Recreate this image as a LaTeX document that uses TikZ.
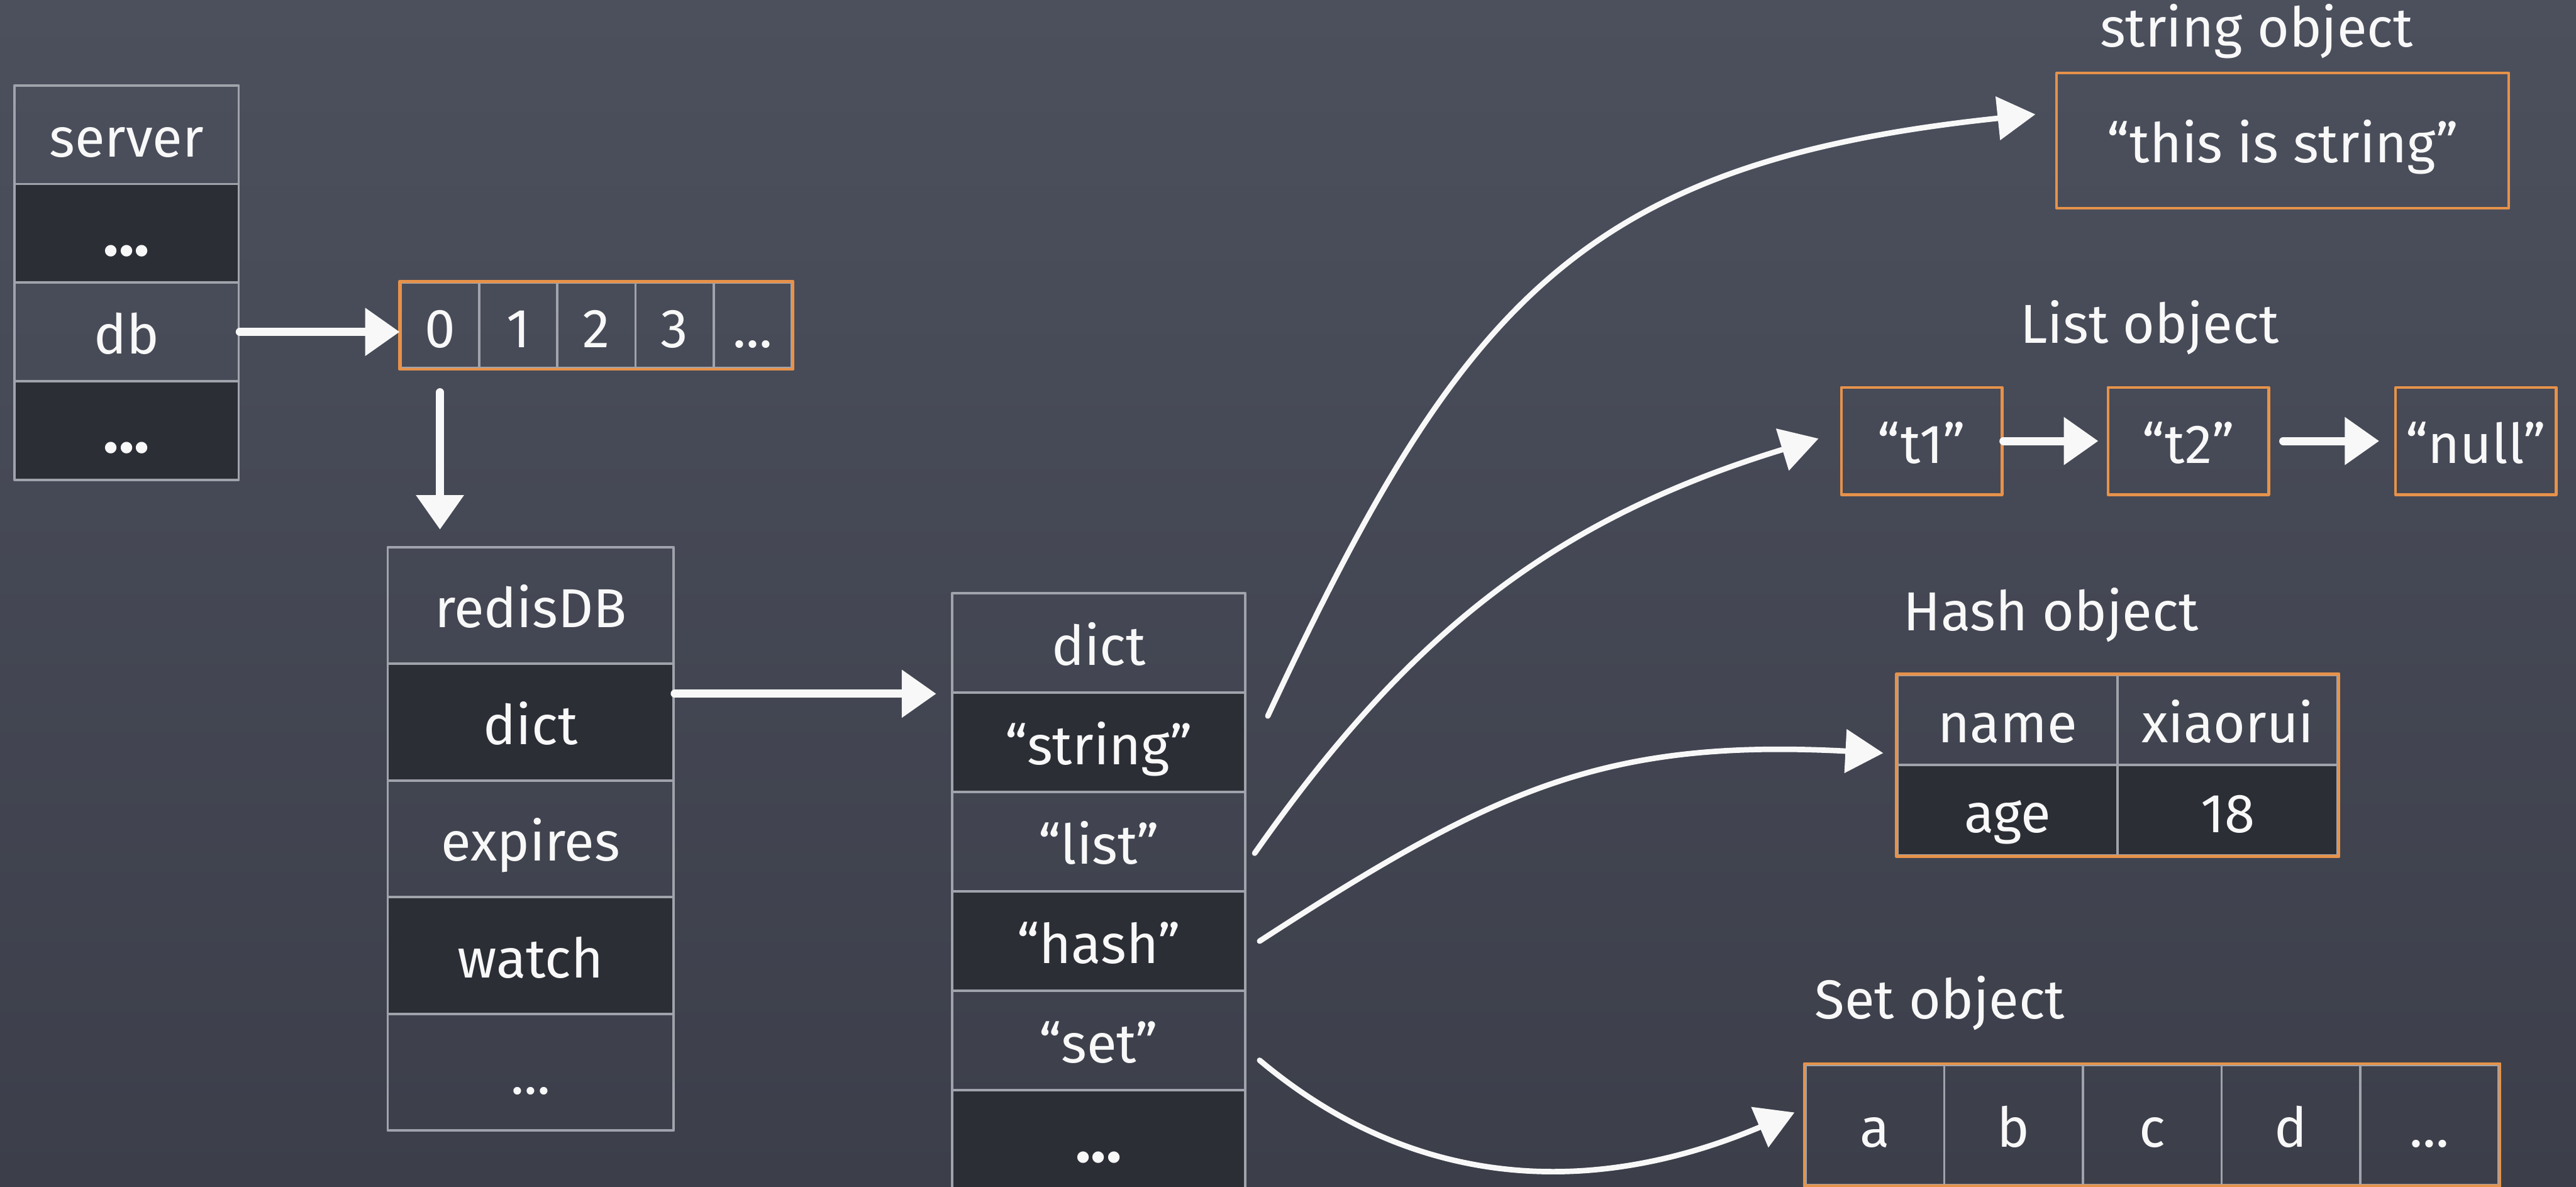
\documentclass[tikz,border=0pt]{standalone}
\usepackage{fontspec}
\setmainfont{Fira Sans}
\usetikzlibrary{arrows.meta}
\definecolor{boardtop}{RGB}{76,80,93}
\definecolor{boardbot}{RGB}{60,63,74}
\definecolor{celldark}{RGB}{44,46,54}
\definecolor{cellline}{RGB}{160,163,171}
\definecolor{boxline}{RGB}{230,146,74}
\definecolor{chalk}{RGB}{248,248,248}
\begin{document}
\begin{tikzpicture}[line join=round, line cap=round, >={Triangle[length=2.1mm,width=2.8mm]}, text=chalk, font=\fontsize{9.5}{11}\selectfont]
\tikzset{cell/.style={draw=cellline, line width=.4pt, inner sep=0pt, text height=.27cm, text depth=0pt},
dark/.style={fill=celldark},
srv/.style={cell, minimum width=1.365cm, minimum height=.60cm},
slot/.style={cell, minimum width=.476cm, minimum height=.52cm},
rdb/.style={cell, minimum width=1.74cm, minimum height=.71cm},
ent/.style={cell, minimum width=1.784cm, minimum height=.605cm},
kv/.style={cell, minimum width=1.34cm, minimum height=.55cm},
member/.style={cell, minimum width=.844cm, minimum height=.73cm},
obj/.style={cell, draw=boxline, line width=.5pt},
objframe/.style={draw=boxline, line width=.5pt},
title/.style={inner sep=0pt},
bigdots/.style={font=\fontsize{11}{11}\selectfont\bfseries},
chalkarrow/.style={draw=chalk, line width=1.4pt, ->},
chalkcurve/.style={draw=chalk, line width=.95pt, -{Triangle[length=2.3mm,width=2.6mm]}}}
\shade[top color=boardtop, bottom color=boardbot] (0,0) rectangle (15.68,7.22);
\useasboundingbox (0,0) rectangle (15.68,7.22);
\clip (0,0) rectangle (15.68,7.22);

% server
\node[srv] (server) at (.77,6.40) {server};
\node[srv,dark,bigdots] (srvmore) at (.77,5.80) {...};
\node[srv] (db) at (.77,5.20) {db};
\node[srv,dark,bigdots] (srvrest) at (.77,4.60) {...};

% db array
\node[slot] (db0) at (2.678,5.24) {0};
\node[slot] (db1) at (3.154,5.24) {1};
\node[slot] (db2) at (3.630,5.24) {2};
\node[slot] (db3) at (4.106,5.24) {3};
\node[slot] (dbmore) at (4.582,5.24) {...};
\draw[objframe] (db0.north west) rectangle (dbmore.south east);

% redisDB
\node[rdb] (redisdb) at (3.23,3.535) {redisDB};
\node[rdb,dark] (rdict) at (3.23,2.825) {dict};
\node[rdb] (rexpires) at (3.23,2.115) {expires};
\node[rdb,dark] (rwatch) at (3.23,1.405) {watch};
\node[rdb] (rmore) at (3.23,.695) {...};

% dict entries
\node[ent] (dhead) at (6.688,3.3075) {dict};
\node[ent,dark] (dstring) at (6.688,2.7025) {“string”};
\node[ent] (dlist) at (6.688,2.0975) {“list”};
\node[ent,dark] (dhash) at (6.688,1.4925) {“hash”};
\node[ent] (dset) at (6.688,.8875) {“set”};
\node[ent,dark,bigdots] (dmore) at (6.688,.2825) {...};

% objects
\node[title, anchor=base] (strlabel) at (13.735,6.934) {string object};
\node[obj, minimum width=2.752cm, minimum height=.823cm] (strval) at (13.894,6.364) {“this is string”};

\node[title, anchor=base west] (listlabel) at (12.29,5.13) {List object};
\node[obj, minimum width=.978cm, minimum height=.652cm] (t1) at (11.697,4.536) {“t1”};
\node[obj, minimum width=.978cm, minimum height=.652cm] (t2) at (13.32,4.536) {“t2”};
\node[obj, minimum width=.978cm, minimum height=.652cm] (null) at (15.07,4.536) {“null”};

\node[title, anchor=base west] (hashlabel) at (11.58,3.384) {Hash object};
\node[kv] (hname) at (12.22,2.837) {name};
\node[kv] (hnameval) at (13.56,2.837) {xiaorui};
\node[kv,dark] (hage) at (12.22,2.289) {age};
\node[kv,dark] (hageval) at (13.56,2.289) {18};
\draw[objframe] (hname.north west) rectangle (hageval.south east);

\node[title, anchor=base west] (setlabel) at (11.04,1.02) {Set object};
\node[member] (sa) at (11.412,.375) {a};
\node[member] (sb) at (12.256,.375) {b};
\node[member] (sc) at (13.100,.375) {c};
\node[member] (sd) at (13.944,.375) {d};
\node[member] (smore) at (14.788,.375) {...};
\draw[objframe] (sa.north west) rectangle (smore.south east);

% pointers
\draw[chalkarrow] (db.east) -- (db.east -| db0.west);
\draw[chalkarrow, shorten <=1.4mm, shorten >=1mm] (db0.south) -- (db0.south |- redisdb.north);
\draw[chalkarrow, shorten >=.9mm] (rdict.east |- dhead.south) -- (dhead.south west);
\draw[chalkarrow, shorten >=.5mm] (t1) -- (t2);
\draw[chalkarrow, shorten <=.8mm, shorten >=.9mm] (t2) -- (null);

\draw[chalkcurve] ([xshift=1.3mm,yshift=1.6mm]dstring.east) to[out=65,in=186,looseness=1.2] ([xshift=-1.2mm,yshift=1.6mm]strval.west);
\draw[chalkcurve] ([xshift=.5mm,yshift=-.7mm]dlist.east) to[out=55,in=197] ([xshift=-1.3mm,yshift=.15mm]t1.west);
\draw[chalkcurve] ([xshift=.8mm]dhash.east) to[out=33,in=177,looseness=1.1] ([xshift=-.8mm,yshift=-2mm]hname.west);
\draw[chalkcurve] ([xshift=.8mm,yshift=-1.2mm]dset.east) to[out=-40,in=203] ([xshift=-.6mm,yshift=.75mm]sa.west);
\end{tikzpicture}
\end{document}
